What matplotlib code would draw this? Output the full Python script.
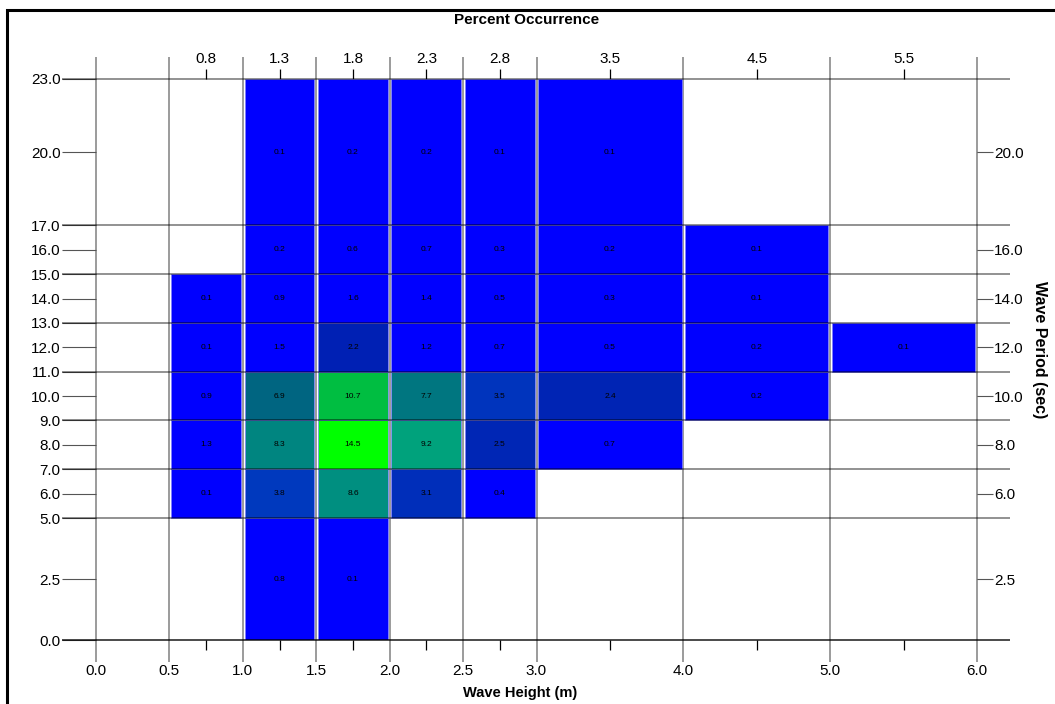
import numpy as np
import matplotlib
matplotlib.use("Agg")
import matplotlib.pyplot as plt
from matplotlib.colors import LinearSegmentedColormap, Normalize
from matplotlib.patches import Rectangle

# bins
x_edges = [0.5, 1.0, 1.5, 2.0, 2.5, 3.0, 4.0, 5.0, 6.0]
y_edges = [0.0, 5.0, 7.0, 9.0, 11.0, 13.0, 15.0, 17.0, 23.0]
x_labels_top = ["0.8", "1.3", "1.8", "2.3", "2.8", "3.5", "4.5", "5.5"]
x_ticks_bottom = [0.0, 0.5, 1.0, 1.5, 2.0, 2.5, 3.0, 4.0, 5.0, 6.0]

nan = np.nan
# percent occurrence, rows = period bins (bottom -> top), cols = height bins
percent = np.array([
    [nan, 0.8, 0.1, nan, nan, nan, nan, nan],
    [0.1, 3.8, 8.6, 3.1, 0.4, nan, nan, nan],
    [1.3, 8.3, 14.5, 9.2, 2.5, 0.7, nan, nan],
    [0.9, 6.9, 10.7, 7.7, 3.5, 2.4, 0.2, nan],
    [0.1, 1.5, 2.2, 1.2, 0.7, 0.5, 0.2, 0.1],
    [0.1, 0.9, 1.6, 1.4, 0.5, 0.3, 0.1, nan],
    [nan, 0.2, 0.6, 0.7, 0.3, 0.2, 0.1, nan],
    [nan, 0.1, 0.2, 0.2, 0.1, 0.1, nan, nan],
])

cmap = LinearSegmentedColormap.from_list("occ", [
    (0.00, (0, 0, 1)),
    (0.11, (0, 0, 1)),
    (0.15, (0, 0.13, 0.70)),
    (0.26, (0, 0.22, 0.75)),
    (0.48, (0, 0.40, 0.50)),
    (0.56, (0, 0.50, 0.50)),
    (0.63, (0, 0.63, 0.50)),
    (0.74, (0, 0.75, 0.25)),
    (1.00, (0, 1, 0)),
])
norm = Normalize(0, 14.5)

plt.rcParams['font.family'] = ['Liberation Sans', 'DejaVu Sans']

W, H = 1055, 704
fig = plt.figure(figsize=(W / 100, H / 100), dpi=100)
ax = fig.add_axes([96 / W, (H - 640) / H, (977 - 96) / W, (640 - 79) / H])
ax.set_xlim(0, 6)
ax.set_ylim(0, 23)
for s in ax.spines.values():
    s.set_visible(False)

# cells
xc = []
for i in range(len(x_edges) - 1):
    x0, x1 = x_edges[i], x_edges[i + 1]
    xc.append((x0 + x1) / 2)
    for j in range(len(y_edges) - 1):
        v = percent[j, i]
        if np.isnan(v):
            continue
        y0, y1 = y_edges[j], y_edges[j + 1]
        ax.bar(x0 + 0.012, y1 - y0, width=x1 - x0 - 0.024, bottom=y0, align='edge',
               color=cmap(norm(v)), edgecolor='#8080ff', linewidth=0.5, zorder=1)
        ax.text((x0 + x1) / 2, (y0 + y1) / 2, f"{v:.1f}", ha='center', va='center',
                fontsize=6, color='black', zorder=4)

yc = [(y_edges[j] + y_edges[j + 1]) / 2 for j in range(len(y_edges) - 1)]

# grid lines
ax.vlines([0.0] + x_edges, -0.9, 23.9, colors='black', alpha=0.5, linewidth=1.1,
          clip_on=False, zorder=0.5)
ax.hlines(y_edges[1:], -0.232, 6.226, colors='black', alpha=0.5, linewidth=1.2,
          clip_on=False, zorder=3)
ax.hlines([0], -0.232, 6.226, colors='black', alpha=0.9, linewidth=1.1,
          clip_on=False, zorder=3)

# bottom axis
ax.set_xticks(x_ticks_bottom)
ax.set_xticklabels([f"{v:.1f}" for v in x_ticks_bottom])
ax.set_xticks(xc, minor=True)
ax.tick_params(axis='x', which='major', length=0, pad=17, labelsize=11)
ax.tick_params(axis='x', which='minor', length=7.2, width=0.9, direction='out', color='black')

# left axis
left_ticks = sorted(set(y_edges) | set(yc))
ax.set_yticks(left_ticks)
ax.set_yticklabels([f"{v:.1f}" for v in left_ticks])
ax.tick_params(axis='y', which='major', length=24.5, width=0.8, direction='out',
               color='#555555', pad=1, labelsize=11)

# top axis
top = ax.secondary_xaxis('top')
top.set_xticks(xc)
top.set_xticklabels(x_labels_top)
top.tick_params(length=7.2, width=0.9, direction='out', color='black', pad=2, labelsize=11)
for s in top.spines.values():
    s.set_visible(False)

# right axis
right = ax.secondary_yaxis('right')
right.set_yticks(yc)
right.set_yticklabels([f"{v:.1f}" for v in yc])
right.tick_params(length=11.5, width=0.8, direction='out', color='#555555', pad=1, labelsize=11)
for s in right.spines.values():
    s.set_visible(False)

ax.set_xlabel("Wave Height (m)", fontsize=10.5, fontweight='bold')
ax.xaxis.set_label_coords((520 - 96) / 881, (640 - 686) / 561)
fig.text(527 / W, 1 - 20 / H, "Percent Occurrence", ha='center', va='center',
         fontsize=11, fontweight='bold')
fig.text(1040 / W, 1 - 350 / H, "Wave Period (sec)", ha='center', va='center',
         rotation=270, fontsize=11.5, fontweight='bold')

# outer frame (cut off at right and bottom)
fig.patches.append(Rectangle((7 / W, -0.05), 1.1, 1 - 10 / H + 0.05, transform=fig.transFigure,
                             fill=False, edgecolor='black', linewidth=2.2, clip_on=False))

fig.savefig("out.png", dpi=100)
